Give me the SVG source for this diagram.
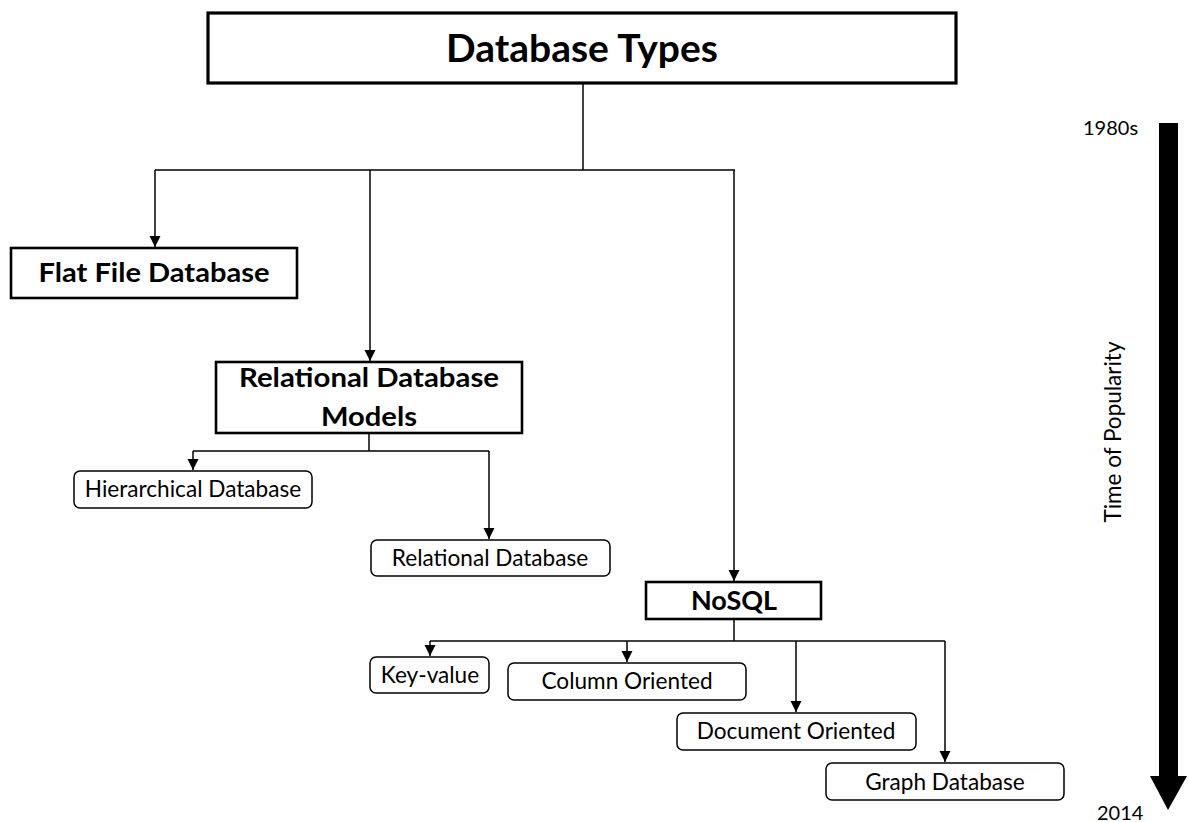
<svg xmlns="http://www.w3.org/2000/svg" width="1189" height="822" viewBox="0 0 1189 822">
  <style>
    .bg { fill: #ffffff; }
    .hbox { fill: #ffffff; stroke: #000000; stroke-width: 2.6; }
    .tbox { fill: #ffffff; stroke: #000000; stroke-width: 3.2; }
    .leaf { fill: #ffffff; stroke: #000000; stroke-width: 1.5; }
    .wire { fill: none; stroke: #000000; stroke-width: 1.5; }
    .bold { font-family: Lato, "Liberation Sans", sans-serif; font-weight: bold; fill: #000000; text-anchor: middle; }
    .label { font-family: Lato, "Liberation Sans", sans-serif; font-size: 22.6px; fill: #000000; text-anchor: middle; }
    .axis { font-family: Lato, "Liberation Sans", sans-serif; fill: #000000; }
  </style>
  <defs>
    <marker id="tip" markerWidth="12" markerHeight="12" refX="11" refY="6" orient="auto" markerUnits="userSpaceOnUse" viewBox="0 0 12 12">
      <path d="M0,0.5 L11,6 L0,11.5 Z" fill="#000000"/>
    </marker>
  </defs>

  <rect class="bg" x="0" y="0" width="1189" height="822"/>

  <!-- connectors -->
  <g id="connectors">
    <path class="wire" d="M583,84 V170"/>
    <path class="wire" d="M155,170 H735"/>
    <path class="wire" d="M155,170 V247" marker-end="url(#tip)"/>
    <path class="wire" d="M370,170 V361" marker-end="url(#tip)"/>
    <path class="wire" d="M734,170 V581" marker-end="url(#tip)"/>

    <path class="wire" d="M369,433 V451"/>
    <path class="wire" d="M193,451 H489"/>
    <path class="wire" d="M193,451 V470" marker-end="url(#tip)"/>
    <path class="wire" d="M489,451 V539" marker-end="url(#tip)"/>

    <path class="wire" d="M734,620 V641"/>
    <path class="wire" d="M430,641 H945"/>
    <path class="wire" d="M430,641 V656" marker-end="url(#tip)"/>
    <path class="wire" d="M627,641 V662" marker-end="url(#tip)"/>
    <path class="wire" d="M796,641 V712" marker-end="url(#tip)"/>
    <path class="wire" d="M945,641 V762" marker-end="url(#tip)"/>
  </g>

  <!-- top node -->
  <g id="node-database-types">
    <rect class="tbox" x="208" y="13" width="748" height="70"/>
    <text class="bold" x="582" y="62" font-size="38" textLength="272" lengthAdjust="spacingAndGlyphs">Database Types</text>
  </g>

  <g id="node-flat-file">
    <rect class="hbox" x="11" y="248" width="286" height="50"/>
    <text class="bold" x="154" y="282" font-size="27" textLength="231" lengthAdjust="spacingAndGlyphs">Flat File Database</text>
  </g>

  <g id="node-relational-models">
    <rect class="hbox" x="216" y="362" width="306" height="71"/>
    <text class="bold" x="369" y="387" font-size="27" textLength="260" lengthAdjust="spacingAndGlyphs">Relational Database</text>
    <text class="bold" x="369" y="426" font-size="27" textLength="96" lengthAdjust="spacingAndGlyphs">Models</text>
  </g>

  <g id="node-hierarchical">
    <rect class="leaf" x="74" y="471" width="238" height="37" rx="6"/>
    <text class="label" x="193" y="497">Hierarchical Database</text>
  </g>

  <g id="node-relational">
    <rect class="leaf" x="371" y="540" width="239" height="36" rx="6"/>
    <text class="label" x="490" y="566">Relational Database</text>
  </g>

  <g id="node-nosql">
    <rect class="hbox" x="646" y="582" width="175" height="37"/>
    <text class="bold" x="734" y="610" font-size="27">NoSQL</text>
  </g>

  <g id="node-key-value">
    <rect class="leaf" x="370" y="657" width="119" height="36" rx="6"/>
    <text class="label" x="430" y="683">Key-value</text>
  </g>

  <g id="node-column">
    <rect class="leaf" x="508" y="663" width="238" height="37" rx="6"/>
    <text class="label" x="627" y="689">Column Oriented</text>
  </g>

  <g id="node-document">
    <rect class="leaf" x="677" y="713" width="239" height="37" rx="6"/>
    <text class="label" x="796" y="739">Document Oriented</text>
  </g>

  <g id="node-graph">
    <rect class="leaf" x="826" y="763" width="238" height="37" rx="6"/>
    <text class="label" x="945" y="790">Graph Database</text>
  </g>

  <!-- time axis -->
  <g id="time-axis">
    <polygon points="1159,123 1178,123 1178,776 1187,776 1168,810 1150,776 1159,776" fill="#000000"/>
    <text class="axis" x="1083" y="135" font-size="20">1980s</text>
    <text class="axis" x="1097" y="820" font-size="20">2014</text>
    <text class="axis" text-anchor="middle" font-size="22.5" transform="translate(1121 432) rotate(-90)">Time of Popularity</text>
  </g>
</svg>
